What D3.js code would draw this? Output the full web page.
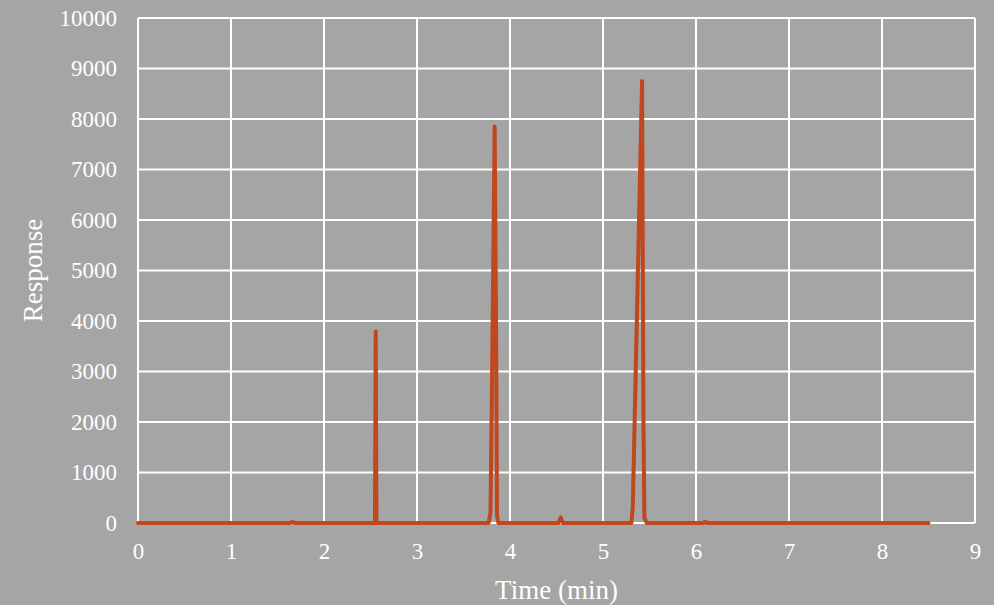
<!DOCTYPE html>
<html>
<head>
<meta charset="utf-8">
<script src="https://cdn.jsdelivr.net/npm/d3@7"></script>
<style>
body { margin: 0; background: #a5a5a5; }
svg { display: block; }
.tick text { font-family: "Liberation Serif", "DejaVu Serif", serif; fill: #fff; }
</style>
</head>
<body>
<svg id="chart"></svg>
<script>
// chromatogram trace
var times = [0, 1.63, 1.66, 1.69, 2.548, 2.556, 2.564, 3.77, 3.79, 3.805, 3.835, 3.85, 3.86, 3.875,
  4.52, 4.545, 4.57, 5.305, 5.32, 5.42, 5.435, 5.445, 5.47, 6.07, 6.1, 6.13, 8.5];
var responses = [0, 0, 25, 0, 0, 3790, 0, 0, 200, 2500, 7850, 4000, 150, 0,
  0, 110, 0, 0, 300, 8750, 2000, 100, 0, 0, 20, 0, 0];
var xTicks = [0, 1, 2, 3, 4, 5, 6, 7, 8, 9];
var yTicks = [0, 1000, 2000, 3000, 4000, 5000, 6000, 7000, 8000, 9000, 10000];

var width = 994, height = 605;
var margin = {top: 18, right: 19, bottom: 82, left: 138};

var svg = d3.select("#chart")
  .attr("width", width)
  .attr("height", height);

var x = d3.scaleLinear().domain([0, 9]).range([margin.left, width - margin.right]);
var y = d3.scaleLinear().domain([0, 10000]).range([height - margin.bottom, margin.top]);

// grid
svg.append("g")
  .selectAll("line.h")
  .data(yTicks)
  .enter().append("line")
  .attr("x1", x(0)).attr("x2", x(9))
  .attr("y1", function(d) { return y(d); })
  .attr("y2", function(d) { return y(d); })
  .style("stroke", "#fff").style("stroke-width", 2);

svg.append("g")
  .selectAll("line.v")
  .data(xTicks)
  .enter().append("line")
  .attr("x1", function(d) { return x(d); })
  .attr("x2", function(d) { return x(d); })
  .attr("y1", y(0)).attr("y2", y(10000))
  .style("stroke", "#fff").style("stroke-width", 2);

// axes (labels only)
var xAxis = svg.append("g")
  .attr("transform", "translate(0," + y(0) + ")")
  .call(d3.axisBottom(x).tickValues(xTicks).tickSize(0).tickPadding(20).tickFormat(d3.format("d")));
xAxis.select(".domain").remove();
xAxis.selectAll("text").style("font-size", "23px");

var yAxis = svg.append("g")
  .attr("transform", "translate(" + (x(0) - 21) + ",0)")
  .call(d3.axisLeft(y).tickValues(yTicks).tickSize(0).tickPadding(0).tickFormat(d3.format("d")));
yAxis.select(".domain").remove();
yAxis.selectAll("text").style("font-size", "23px");

// trace
var pts = times.map(function(t, i) { return [t, responses[i]]; });
var line = d3.line()
  .x(function(d) { return x(d[0]); })
  .y(function(d) { return y(d[1]); });

svg.append("path")
  .datum(pts)
  .attr("d", line)
  .style("fill", "none")
  .style("stroke", "#c1471e")
  .style("stroke-width", 4)
  .style("stroke-linejoin", "round")
  .style("stroke-linecap", "round");

// axis titles
svg.append("text")
  .attr("x", (x(0) + x(9)) / 2)
  .attr("y", 599)
  .attr("text-anchor", "middle")
  .style("font-family", "Liberation Serif, DejaVu Serif, serif")
  .style("font-size", "27px")
  .style("fill", "#fff")
  .text("Time (min)");

svg.append("text")
  .attr("transform", "translate(42," + ((y(0) + y(10000)) / 2) + ") rotate(-90)")
  .attr("text-anchor", "middle")
  .style("font-family", "Liberation Serif, DejaVu Serif, serif")
  .style("font-size", "27px")
  .style("fill", "#fff")
  .text("Response");
</script>
</body>
</html>
